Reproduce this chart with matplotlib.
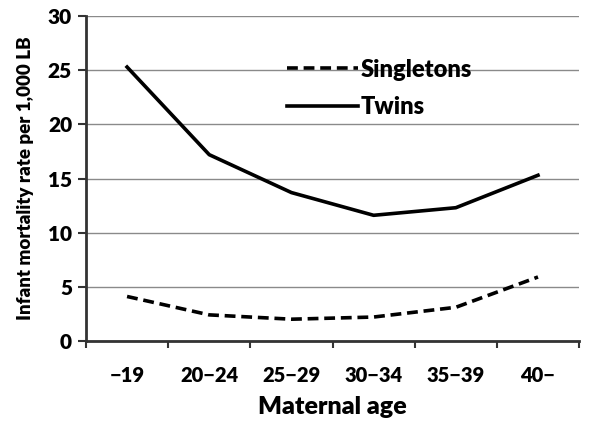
import matplotlib.pyplot as plt
import numpy as np

plt.rcParams["font.family"] = ["Lato", "DejaVu Sans"]

# DATA
age_groups = ["\u221219", "20\u221224", "25\u221229", "30\u221234", "35\u221239", "40\u2212"]
singletons = [4.1, 2.4, 2.0, 2.2, 3.1, 5.9]
twins = [25.3, 17.2, 13.7, 11.6, 12.3, 15.3]
y_ticks = [0, 5, 10, 15, 20, 25, 30]

# PLOT
fig = plt.figure(figsize=(5.97, 4.25), dpi=100)
ax = fig.add_axes([0.144, 0.198, 0.826, 0.764])

x = np.arange(len(age_groups))
ax.plot(x, singletons, color="black", lw=2.6, ls=(0, (3, 1.6)), label="Singletons")
ax.plot(x, twins, color="black", lw=2.6, label="Twins")

ax.set_xlim(-0.5, len(age_groups) - 0.5)
ax.set_ylim(0, 30)
ax.set_yticks(y_ticks)
ax.yaxis.grid(True, color="#8a8a8a", lw=1)
ax.set_axisbelow(True)

# category labels in between boundary ticks (excel style)
ax.set_xticks(np.arange(-0.5, len(age_groups)), minor=False)
ax.set_xticklabels([])
ax.set_xticks(x, minor=True)
ax.set_xticklabels(age_groups, minor=True, fontsize=14.5, fontweight="heavy")
ax.tick_params(axis="x", which="minor", length=0, pad=18)
ax.tick_params(axis="x", which="major", length=5, width=1.5, color="#333333")
ax.tick_params(axis="y", length=6, width=1.5, color="#333333", labelsize=15, pad=4)
for lab in ax.get_yticklabels():
    lab.set_fontweight("heavy")

for side in ["top", "right"]:
    ax.spines[side].set_visible(False)
for side in ["left", "bottom"]:
    ax.spines[side].set_linewidth(2)
    ax.spines[side].set_color("#333333")

ax.set_xlabel("Maternal age", fontsize=18, fontweight="heavy", labelpad=8)
ax.set_ylabel("Infant mortality rate per 1,000 LB", fontsize=13.5, fontweight="heavy", labelpad=10)

ax.legend(loc="upper left", bbox_to_anchor=(0.365, 0.935), frameon=False,
          prop={"weight": "heavy", "size": 17}, handlelength=3.0,
          handletextpad=0.1, labelspacing=0.65)

fig.savefig("out.png", dpi=100)
